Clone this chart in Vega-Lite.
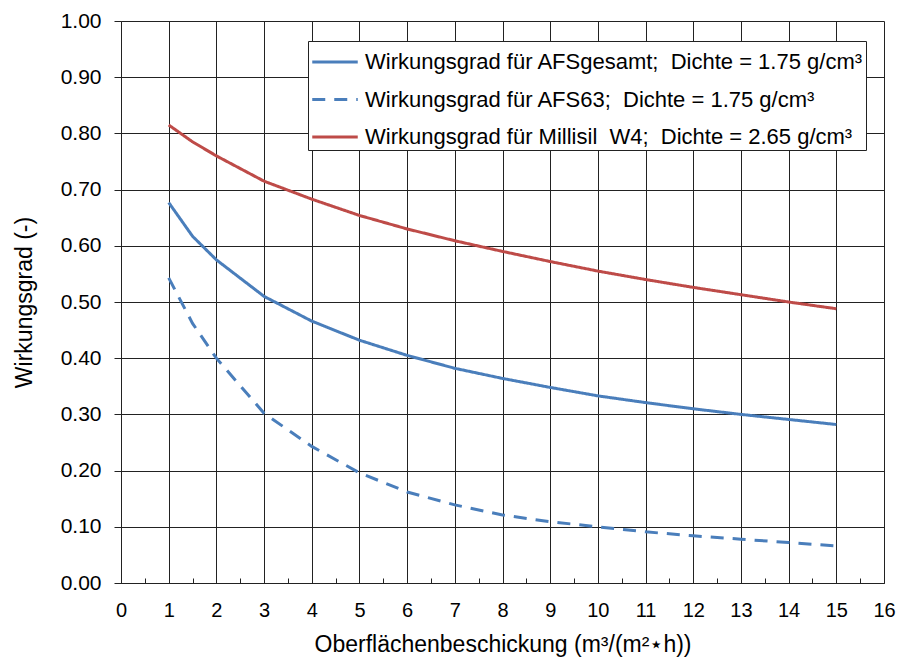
{
  "$schema": "https://vega.github.io/schema/vega-lite/v6.json",
  "width": 763,
  "height": 562,
  "autosize": "none",
  "padding": {"left": 121, "top": 21, "right": 15, "bottom": 78},
  "background": "white",
  "config": {
    "font": "Liberation Sans",
    "view": {"stroke": null}
  },
  "datasets": {
    "d": [
      {"x": 1, "y": 0.677, "s": "A"},
      {"x": 1.5, "y": 0.617, "s": "A"},
      {"x": 2, "y": 0.575, "s": "A"},
      {"x": 3, "y": 0.510, "s": "A"},
      {"x": 4, "y": 0.466, "s": "A"},
      {"x": 5, "y": 0.432, "s": "A"},
      {"x": 6, "y": 0.405, "s": "A"},
      {"x": 7, "y": 0.382, "s": "A"},
      {"x": 8, "y": 0.364, "s": "A"},
      {"x": 9, "y": 0.348, "s": "A"},
      {"x": 10, "y": 0.333, "s": "A"},
      {"x": 11, "y": 0.321, "s": "A"},
      {"x": 12, "y": 0.310, "s": "A"},
      {"x": 13, "y": 0.300, "s": "A"},
      {"x": 14, "y": 0.291, "s": "A"},
      {"x": 15, "y": 0.282, "s": "A"},
      {"x": 1, "y": 0.543, "s": "B"},
      {"x": 1.5, "y": 0.462, "s": "B"},
      {"x": 2, "y": 0.400, "s": "B"},
      {"x": 3, "y": 0.302, "s": "B"},
      {"x": 4, "y": 0.243, "s": "B"},
      {"x": 5, "y": 0.196, "s": "B"},
      {"x": 6, "y": 0.162, "s": "B"},
      {"x": 7, "y": 0.139, "s": "B"},
      {"x": 8, "y": 0.121, "s": "B"},
      {"x": 9, "y": 0.109, "s": "B"},
      {"x": 10, "y": 0.100, "s": "B"},
      {"x": 11, "y": 0.091, "s": "B"},
      {"x": 12, "y": 0.084, "s": "B"},
      {"x": 13, "y": 0.078, "s": "B"},
      {"x": 14, "y": 0.072, "s": "B"},
      {"x": 15, "y": 0.066, "s": "B"},
      {"x": 1, "y": 0.815, "s": "C"},
      {"x": 1.5, "y": 0.785, "s": "C"},
      {"x": 2, "y": 0.760, "s": "C"},
      {"x": 3, "y": 0.715, "s": "C"},
      {"x": 4, "y": 0.683, "s": "C"},
      {"x": 5, "y": 0.654, "s": "C"},
      {"x": 6, "y": 0.630, "s": "C"},
      {"x": 7, "y": 0.609, "s": "C"},
      {"x": 8, "y": 0.590, "s": "C"},
      {"x": 9, "y": 0.572, "s": "C"},
      {"x": 10, "y": 0.555, "s": "C"},
      {"x": 11, "y": 0.540, "s": "C"},
      {"x": 12, "y": 0.526, "s": "C"},
      {"x": 13, "y": 0.513, "s": "C"},
      {"x": 14, "y": 0.500, "s": "C"},
      {"x": 15, "y": 0.488, "s": "C"}
    ],
    "names": [
      {"s": "A", "label": "Wirkungsgrad für AFSgesamt;\u00a0 Dichte = 1.75 g/cm³"},
      {"s": "B", "label": "Wirkungsgrad für AFS63;\u00a0 Dichte = 1.75 g/cm³"},
      {"s": "C", "label": "Wirkungsgrad für Millisil\u00a0 W4;\u00a0 Dichte = 2.65 g/cm³"}
    ]
  },
  "data": {"name": "d"},
  "transform": [
    {"lookup": "s", "from": {"data": {"name": "names"}, "key": "s", "fields": ["label"]}}
  ],
  "mark": {"type": "line", "strokeWidth": 3, "strokeCap": "butt"},
  "encoding": {
    "x": {
      "field": "x", "type": "quantitative",
      "scale": {"domain": [0, 16], "nice": false, "zero": false},
      "axis": {
        "title": "Oberflächenbeschickung (m³/(m²⋆h))",
        "values": [0,0.5,1,1.5,2,2.5,3,3.5,4,4.5,5,5.5,6,6.5,7,7.5,8,8.5,9,9.5,10,10.5,11,11.5,12,12.5,13,13.5,14,14.5,15,15.5,16],
        "labelExpr": "datum.value % 1 === 0 ? format(datum.value, 'd') : ''",
        "grid": true,
        "gridColor": "#222",
        "gridOpacity": {"condition": {"test": "datum.value % 1 !== 0", "value": 0}, "value": 1},
        "tickSize": -5,
        "tickColor": "#222",
        "domainColor": "#222",
        "labelFontSize": 20,
        "labelColor": "#000",
        "labelPadding": 22,
        "labelFlush": false,
        "titleFontSize": 23,
        "titleFontWeight": "normal",
        "titleColor": "#000",
        "titlePadding": 13
      }
    },
    "y": {
      "field": "y", "type": "quantitative",
      "scale": {"domain": [0, 1], "nice": false},
      "axis": {
        "title": "Wirkungsgrad (-)",
        "values": [0,0.1,0.2,0.3,0.4,0.5,0.6,0.7,0.8,0.9,1.0],
        "format": ".2f",
        "grid": true,
        "gridColor": "#222",
        "tickSize": 7,
        "tickColor": "#222",
        "domainColor": "#222",
        "labelFontSize": 21,
        "labelColor": "#000",
        "labelPadding": 13,
        "labelFlush": false,
        "titleFontSize": 23,
        "titleFontWeight": "normal",
        "titleColor": "#000",
        "titlePadding": 24
      }
    },
    "color": {
      "field": "label", "type": "nominal",
      "scale": {
        "domain": ["Wirkungsgrad für AFSgesamt;\u00a0 Dichte = 1.75 g/cm³", "Wirkungsgrad für AFS63;\u00a0 Dichte = 1.75 g/cm³", "Wirkungsgrad für Millisil\u00a0 W4;\u00a0 Dichte = 2.65 g/cm³"],
        "range": ["#4A7EBB", "#4A7EBB", "#BE4B48"]
      },
      "legend": {
        "title": null,
        "orient": "none",
        "legendX": 187,
        "legendY": 20,
        "symbolType": "M-1.3,0H1.3",
        "symbolSize": 1225,
        "symbolStrokeWidth": 3,
        "symbolOffset": 6,
        "labelFontSize": 22,
        "labelColor": "#000",
        "labelLimit": 800,
        "strokeColor": "#222",
        "fillColor": "white",
        "padding": 2,
        "rowPadding": 7.5,
        "labelOffset": 11
      }
    },
    "strokeDash": {
      "field": "label", "type": "nominal",
      "scale": {
        "domain": ["Wirkungsgrad für AFSgesamt;\u00a0 Dichte = 1.75 g/cm³", "Wirkungsgrad für AFS63;\u00a0 Dichte = 1.75 g/cm³", "Wirkungsgrad für Millisil\u00a0 W4;\u00a0 Dichte = 2.65 g/cm³"],
        "range": [[1, 0], [13, 9], [1, 0]]
      },
      "legend": null
    }
  }
}
